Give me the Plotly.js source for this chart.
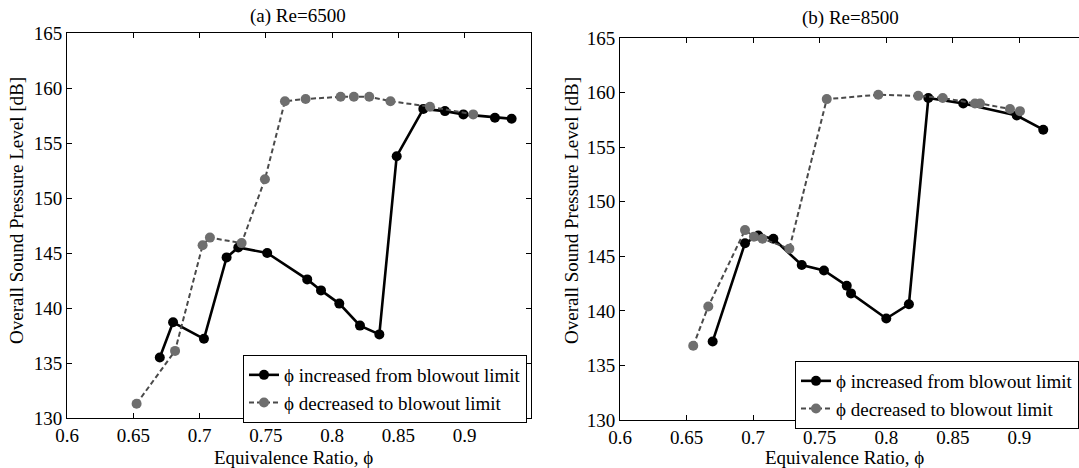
<!DOCTYPE html>
<html>
<head>
<meta charset="utf-8">
<script src="https://cdn.plot.ly/plotly-3.0.1.min.js"></script>
<style>html,body{margin:0;padding:0;background:#fff;}#chart{width:1079px;height:468px;}</style>
</head>
<body>
<div id="chart"></div>
<script>
// (a) Re=6500
const phiA_inc = [0.670, 0.680, 0.7033, 0.7204, 0.7292, 0.751, 0.7812, 0.7916, 0.8054, 0.821, 0.8356, 0.8487, 0.8688, 0.8851, 0.899, 0.9228, 0.9354];
const splA_inc = [135.5, 138.7, 137.2, 144.6, 145.5, 145.0, 142.6, 141.6, 140.4, 138.4, 137.6, 153.8, 158.1, 157.9, 157.6, 157.3, 157.2];
const phiA_dec = [0.6525, 0.6815, 0.7023, 0.7078, 0.7317, 0.7493, 0.7644, 0.780, 0.8064, 0.8164, 0.828, 0.844, 0.8738, 0.9064];
const splA_dec = [131.3, 136.1, 145.7, 146.4, 145.9, 151.7, 158.8, 159.0, 159.2, 159.2, 159.2, 158.8, 158.3, 157.6];
// (b) Re=8500
const phiB_inc = [0.6696, 0.6939, 0.7039, 0.7152, 0.7365, 0.7532, 0.7703, 0.7735, 0.800, 0.817, 0.8316, 0.8578, 0.898, 0.9179];
const splB_inc = [137.2, 146.2, 146.9, 146.6, 144.2, 143.7, 142.3, 141.6, 139.3, 140.6, 159.5, 159.0, 157.9, 156.6];
const phiB_dec = [0.655, 0.6663, 0.6939, 0.7006, 0.707, 0.7272, 0.7553, 0.794, 0.824, 0.8424, 0.8666, 0.8704, 0.8929, 0.9004];
const splB_dec = [136.8, 140.4, 147.4, 146.8, 146.6, 145.7, 159.4, 159.8, 159.7, 159.5, 159.0, 159.0, 158.5, 158.3];

const panelTitles = ['(a) Re=6500', '(b) Re=8500'];
const seriesNames = ['\u03d5 increased from blowout limit', '\u03d5 decreased to blowout limit'];
const xTitle = 'Equivalence Ratio, \u03d5';
const yTitle = 'Overall Sound Pressure Level [dB]';
const xTicks = [0.6, 0.65, 0.7, 0.75, 0.8, 0.85, 0.9];
const yTicks = [130, 135, 140, 145, 150, 155, 160, 165];

const W = 1079, H = 468;
const FONT = 'Liberation Serif, Times New Roman, serif';
const px = v => v / W, py = v => 1 - v / H;

const solidStyle = {mode: 'lines+markers', line: {color: '#000', width: 2.6}, marker: {color: '#000', size: 10}};
const dashStyle = {mode: 'lines+markers', line: {color: '#4a4a4a', width: 2, dash: '5px,3px'}, marker: {color: '#6e6e6e', size: 10}};

const traces = [
  Object.assign({x: phiA_inc, y: splA_inc, name: seriesNames[0], xaxis: 'x', yaxis: 'y', legend: 'legend'}, solidStyle),
  Object.assign({x: phiA_dec, y: splA_dec, name: seriesNames[1], xaxis: 'x', yaxis: 'y', legend: 'legend'}, dashStyle),
  Object.assign({x: phiB_inc, y: splB_inc, name: seriesNames[0], xaxis: 'x2', yaxis: 'y2', legend: 'legend2'}, solidStyle),
  Object.assign({x: phiB_dec, y: splB_dec, name: seriesNames[1], xaxis: 'x2', yaxis: 'y2', legend: 'legend2'}, dashStyle)
];

const axBase = {
  showgrid: false, zeroline: false, showline: true, linecolor: '#000', linewidth: 1,
  ticks: 'inside', ticklen: 5, tickwidth: 1, tickcolor: '#000',
  tickfont: {family: FONT, size: 19, color: '#000'}, automargin: false, fixedrange: true
};
const legBase = {
  font: {family: FONT, size: 19, color: '#000'}, bgcolor: '#fff', bordercolor: '#000', borderwidth: 1,
  xanchor: 'left', yanchor: 'top', tracegroupgap: 0, itemwidth: 30
};

const annFont = {family: FONT, size: 19, color: '#000'};
const layout = {
  width: W, height: H, margin: {l: 0, r: 0, t: 0, b: 0},
  paper_bgcolor: '#fff', plot_bgcolor: '#fff', showlegend: true,
  xaxis: Object.assign({}, axBase, {domain: [px(67), px(531)], range: [0.6, 0.95], tickvals: xTicks, mirror: 'ticks', anchor: 'y'}),
  yaxis: Object.assign({}, axBase, {domain: [py(418), py(33)], range: [130, 165], tickvals: yTicks, mirror: 'ticks', anchor: 'x'}),
  xaxis2: Object.assign({}, axBase, {domain: [px(620), 1], range: [0.6, 0.6 + (W - 620) / 1331.4], tickvals: xTicks, mirror: 'ticks', anchor: 'y2'}),
  yaxis2: Object.assign({}, axBase, {domain: [py(420), py(38)], range: [130, 165], tickvals: yTicks, mirror: false, anchor: 'x2'}),
  legend: Object.assign({}, legBase, {x: px(243), y: py(355)}),
  legend2: Object.assign({}, legBase, {x: px(795), y: py(361)}),
  annotations: [
    {text: panelTitles[0], x: px(298), y: py(16), xref: 'paper', yref: 'paper', showarrow: false, font: annFont, xanchor: 'center', yanchor: 'middle'},
    {text: panelTitles[1], x: px(850), y: py(18), xref: 'paper', yref: 'paper', showarrow: false, font: annFont, xanchor: 'center', yanchor: 'middle'},
    {text: xTitle, x: px(293), y: py(457), xref: 'paper', yref: 'paper', showarrow: false, font: annFont, xanchor: 'center', yanchor: 'middle'},
    {text: xTitle, x: px(844), y: py(457), xref: 'paper', yref: 'paper', showarrow: false, font: annFont, xanchor: 'center', yanchor: 'middle'},
    {text: yTitle, x: px(17), y: py(211), xref: 'paper', yref: 'paper', showarrow: false, font: annFont, textangle: -90, xanchor: 'center', yanchor: 'middle'},
    {text: yTitle, x: px(572), y: py(211), xref: 'paper', yref: 'paper', showarrow: false, font: annFont, textangle: -90, xanchor: 'center', yanchor: 'middle'}
  ]
};

Plotly.newPlot('chart', traces, layout, {displayModeBar: false, staticPlot: true});
</script>
</body>
</html>
